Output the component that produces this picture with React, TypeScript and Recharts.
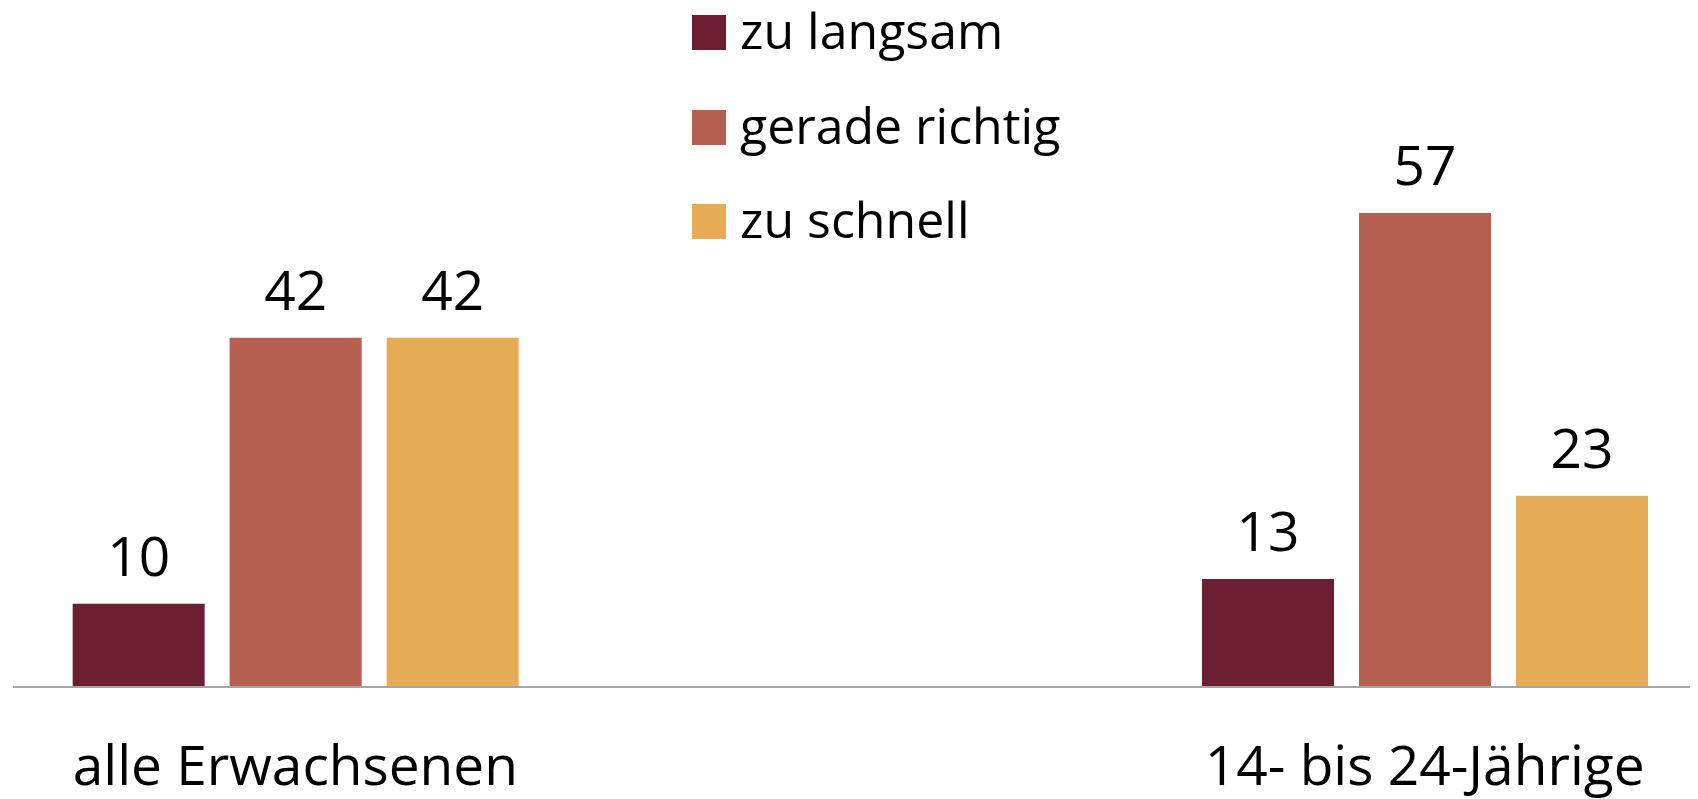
import { BarChart, Bar, XAxis, YAxis, Legend, LabelList } from 'recharts'

const CATEGORIES = ['alle Erwachsenen', '14- bis 24-Jährige']
const ZU_LANGSAM = [10, 13]
const GERADE_RICHTIG = [42, 57]
const ZU_SCHNELL = [42, 23]

const SERIES = [
  { key: 'langsam', name: 'zu langsam', color: '#6C1F32' },
  { key: 'richtig', name: 'gerade richtig', color: '#B55F51' },
  { key: 'schnell', name: 'zu schnell', color: '#E6AB55' },
]

const FONT = '"Open Sans", "Noto Sans", sans-serif'

const data = CATEGORIES.map((name, i) => ({
  x: i,
  name,
  langsam: ZU_LANGSAM[i],
  richtig: GERADE_RICHTIG[i],
  schnell: ZU_SCHNELL[i],
}))

function LegendBox() {
  return (
    <div style={{ fontFamily: FONT, fontSize: 50, color: '#000', width: 320 }}>
      {SERIES.map((s) => (
        <div key={s.key} style={{ position: 'relative', height: 94.5 }}>
          <span
            style={{ position: 'absolute', left: 0, top: 7, width: 34, height: 35, background: s.color }}
          />
          <span
            style={{ position: 'absolute', left: 48, top: -3, lineHeight: '50px', whiteSpace: 'nowrap' }}
          >
            {s.name}
          </span>
        </div>
      ))}
    </div>
  )
}

export default function App() {
  return (
    <div style={{ width: 1690, height: 791, fontFamily: FONT }}>
      <BarChart
        width={1690}
        height={791}
        data={data}
        margin={{ top: 180, right: 0, bottom: 0, left: 5 }}
        barGap={25}
      >
        <XAxis
          type="number"
          dataKey="x"
          domain={[-0.25, 1.242]}
          ticks={[0, 1]}
          tickCount={2}
          tickFormatter={(v: number) => CATEGORIES[v] ?? ''}
          tickLine={false}
          tickMargin={53}
          height={112}
          axisLine={{ stroke: '#A6A6A6', strokeWidth: 2 }}
          tick={{ fontSize: 55, fill: '#000', fontFamily: FONT }}
          interval={0}
        />
        <YAxis hide domain={[0, 60]} />
        <Legend
          layout="vertical"
          align="center"
          verticalAlign="middle"
          wrapperStyle={{ top: 0, left: 684, width: 'auto' }}
          content={() => <LegendBox />}
        />
        {SERIES.map((s) => (
          <Bar key={s.key} dataKey={s.key} name={s.name} fill={s.color} barSize={132} isAnimationActive={false}>
            <LabelList
              dataKey={s.key}
              position="top"
              offset={28}
              style={{ fontSize: 55, fill: '#000', fontFamily: FONT }}
            />
          </Bar>
        ))}
      </BarChart>
    </div>
  )
}
